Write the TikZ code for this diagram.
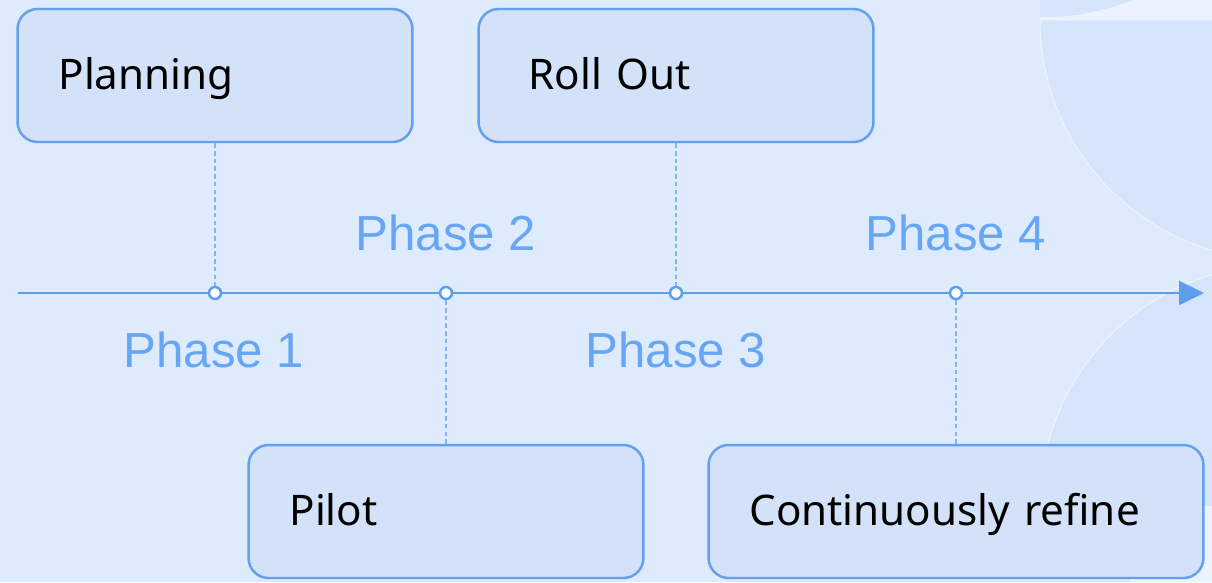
\documentclass[tikz,border=0pt]{standalone}
\usepackage{fontspec}
\setmainfont{Noto Sans}
\newfontfamily\phasefont{Liberation Sans}
\usetikzlibrary{arrows.meta}

\definecolor{bgblue}{HTML}{DEEBFC}
\definecolor{lightblue}{HTML}{EBF3FE}
\definecolor{decorblue}{HTML}{D6E5FA}
\definecolor{boxfill}{HTML}{D3E1F9}
\definecolor{boxline}{HTML}{64A0EE}
\definecolor{axisblue}{HTML}{5E9DEC}
\definecolor{phaseblue}{HTML}{66A6F4}
\definecolor{guideblue}{HTML}{82B4F2}

\tikzset{
  stagebox/.style={draw=boxline, fill=boxfill, line width=1.4pt, rounded corners=0.4cm,
    minimum height=2.66cm, inner xsep=0.82cm, align=left, text width=6.26cm,
    font=\fontsize{24}{40}\selectfont, execute at begin node=\strut},
  phaselabel/.style={text=phaseblue, font=\phasefont\fontsize{28}{32}\selectfont},
  tick/.style={circle, draw=axisblue, fill=white, line width=1.4pt, minimum size=0.24cm, inner sep=0pt},
  guide/.style={draw=guideblue, line width=0.8pt, dash pattern=on 2.6pt off 1.8pt},
  axisline/.style={draw=axisblue, line width=1.4pt, -{Triangle[length=0.5cm,width=0.48cm]}},
  decor/.style={fill=decorblue, draw=white!60!decorblue, line width=0.6pt}
}

\begin{document}
\begin{tikzpicture}[x=0.02cm, y=-0.02cm]

\useasboundingbox (0,0) rectangle (1212,582);
\fill[bgblue] (0,0) rectangle (1212,582);

\begin{scope}
\clip (0,0) rectangle (1212,582);
\fill[lightblue] (1040,0) rectangle (1212,20);
\fill[lightblue] (1212,420) .. controls (1170,460) and (1140,520) .. (1130,582) -- (1212,582) -- cycle;
\begin{scope}
\clip (1040,0) rectangle (1212,19);
\fill[decor] (1040,-242) circle (260);
\end{scope}
\begin{scope}
\clip (1040,21) rectangle (1212,300);
\fill[decor] (1280,20) circle (240);
\end{scope}
\begin{scope}
\clip (1030,250) rectangle (1212,505);
\fill[decor] (1280,505) circle (240);
\end{scope}
\end{scope}

\node[stagebox] (plan) at (215,75.5) {Planning};
\node[stagebox] (rollout) at (676,75.5) {\hspace*{0.18cm}Roll Out};
\node[stagebox] (pilot) at (446,511.5) {Pilot};
\node[stagebox, text width=8.26cm] (refine) at (956,511.5) {Continuously refine};

\coordinate (axstart) at (18,293);
\coordinate (axend) at (1204,293);
\draw[axisline] (axstart) -- (axend);

\node[tick] (d1) at (215,293) {};
\node[tick] (d2) at (446,293) {};
\node[tick] (d3) at (676,293) {};
\node[tick] (d4) at (956,293) {};

\draw[guide] (plan.south) -- (d1.north);
\draw[guide] (d2.south) -- (pilot.north);
\draw[guide] (rollout.south) -- (d3.north);
\draw[guide] (d4.south) -- (refine.north);

\node[phaselabel] (p1) at (214,350) {Phase 1};
\node[phaselabel] (p2) at (446,233) {Phase 2};
\node[phaselabel] (p3) at (676,350) {Phase 3};
\node[phaselabel] (p4) at (956,233) {Phase 4};

\end{tikzpicture}
\end{document}
